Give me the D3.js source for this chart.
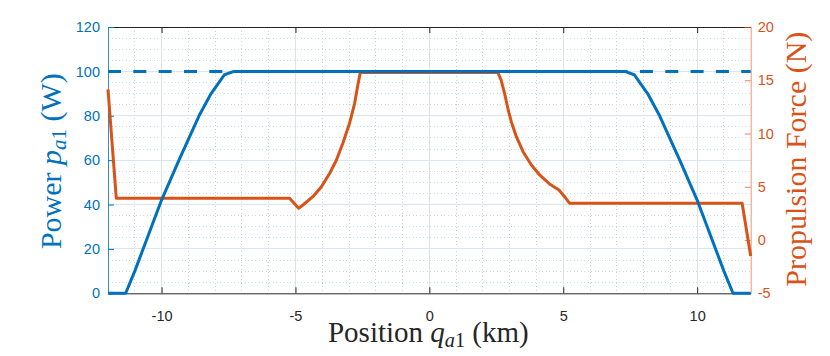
<!DOCTYPE html>
<html>
<head>
<meta charset="utf-8">
<script src="https://cdn.jsdelivr.net/npm/d3@7"></script>
<style>
  body { margin: 0; background: #fff; }
  svg { display: block; }
</style>
</head>
<body>
<div id="chart"></div>
<script>
// position along track (km) and power of agent a1 (W)
const powerX = [-12, -11.34, -11.0, -10.0, -9.35, -8.6, -8.15, -7.65, -7.3,
                7.3, 7.65, 8.15, 8.6, 9.35, 10.0, 11.0, 11.34, 12];
const powerY = [0, 0, 10, 42, 60, 80, 90, 98.5, 100,
                100, 98.5, 90, 80, 60, 42, 10, 0, 0];

// power limit (dashed)
const limitX = [-12, 12];
const limitY = [100, 100];

// propulsion force (N), right axis
const forceX = [-12, -11.69, -5.22, -4.88, -4.72, -4.35, -4.03, -3.72, -3.47, -3.23, -2.98, -2.79, -2.67, -2.58,
                2.56, 2.68, 2.81, 2.93, 3.06, 3.25, 3.5, 3.81, 4.12, 4.49, 4.84, 5.05, 5.24, 11.68, 12];
const forceY = [14.15, 3.92, 3.92, 2.98, 3.29, 4.07, 5.01, 6.27, 7.51, 9.08, 10.96, 12.84, 14.55, 15.72,
                15.72, 15.02, 13.77, 12.37, 11.11, 9.70, 8.29, 7.04, 6.11, 5.26, 4.70, 4.07, 3.45, 3.45, -1.5];

const xTicks      = [-10, -5, 0, 5, 10];
const xMinorTicks = d3.range(-12, 13, 1);
const yLeftTicks  = [0, 20, 40, 60, 80, 100, 120];
const yMinorTicks = d3.range(0, 121, 5);
const yRightTicks = [-5, 0, 5, 10, 15, 20];

const width  = 830,
      height = 356,
      margin = { top: 27, right: 79.3, bottom: 62.7, left: 108 };

const BLUE   = "#0072BD",
      ORANGE = "#D95319",
      DARK   = "#262626";

const x  = d3.scaleLinear([-12, 12],  [margin.left, width - margin.right]);
const yL = d3.scaleLinear([0, 120],   [height - margin.bottom, margin.top]);
const yR = d3.scaleLinear([-5, 20],   [height - margin.bottom, margin.top]);

const fmt = d => String(d);   // plain hyphen like matlab

const svg = d3.select("#chart").append("svg")
  .attr("width", width)
  .attr("height", height)
  .attr("font-family", "'Liberation Sans', Arial, sans-serif");

/* grid: minor dotted first, then major */
const grid = svg.append("g").attr("shape-rendering", "crispEdges");

grid.selectAll(".vminor")
  .data(xMinorTicks.filter(d => !xTicks.includes(d) && d > -12 && d < 12))
  .join("line")
    .attr("x1", d => x(d)).attr("x2", d => x(d))
    .attr("y1", yL(120)).attr("y2", yL(0))
    .attr("stroke", "#cdd2d7")
    .attr("stroke-dasharray", "1,2.5");

grid.selectAll(".hminor")
  .data(yMinorTicks.filter(d => d % 20 !== 0))
  .join("line")
    .attr("x1", x(-12)).attr("x2", x(12))
    .attr("y1", d => yL(d)).attr("y2", d => yL(d))
    .attr("stroke", "#c6dbed")
    .attr("stroke-dasharray", "1,2.5");

grid.selectAll(".vmajor")
  .data(xTicks)
  .join("line")
    .attr("x1", d => x(d)).attr("x2", d => x(d))
    .attr("y1", yL(120)).attr("y2", yL(0))
    .attr("stroke", "#e0e2e5");

grid.selectAll(".hmajor")
  .data(yLeftTicks.filter(d => d > 0 && d < 120))
  .join("line")
    .attr("x1", x(-12)).attr("x2", x(12))
    .attr("y1", d => yL(d)).attr("y2", d => yL(d))
    .attr("stroke", "#d6e6f4");

/* axes */
const tickLen = 6;

const bottomAxis = svg.append("g")
  .attr("transform", `translate(0,${height - margin.bottom})`)
  .call(d3.axisBottom(x).tickValues(xTicks).tickFormat(fmt)
    .tickSizeInner(-tickLen).tickSizeOuter(0).tickPadding(17));
const topAxis = svg.append("g")
  .attr("transform", `translate(0,${margin.top})`)
  .call(d3.axisTop(x).tickValues(xTicks).tickSizeInner(-tickLen).tickSizeOuter(0).tickFormat(""));
[bottomAxis, topAxis].forEach(g => {
  g.select(".domain").attr("stroke", DARK);
  g.selectAll("line").attr("stroke", DARK);
  g.selectAll("text").attr("fill", DARK).attr("font-size", 14.5);
});

const leftAxis = svg.append("g")
  .attr("transform", `translate(${margin.left},0)`)
  .call(d3.axisLeft(yL).tickValues(yLeftTicks).tickFormat(fmt)
    .tickSizeInner(-tickLen).tickSizeOuter(0).tickPadding(8));
leftAxis.select(".domain").attr("stroke", BLUE).attr("stroke-opacity", 0.8);
leftAxis.selectAll("line").attr("stroke", BLUE);
leftAxis.selectAll("text").attr("fill", BLUE).attr("font-size", 14.5);

const rightAxis = svg.append("g")
  .attr("transform", `translate(${width - margin.right},0)`)
  .call(d3.axisRight(yR).tickValues(yRightTicks).tickFormat(fmt)
    .tickSizeInner(-tickLen).tickSizeOuter(0).tickPadding(7));
rightAxis.select(".domain").attr("stroke", ORANGE).attr("stroke-opacity", 0.6);
rightAxis.selectAll("line").attr("stroke", ORANGE).attr("stroke-opacity", 0.7);
rightAxis.selectAll("text").attr("fill", ORANGE).attr("font-size", 14.5);

/* lines */
const lineL = d3.line().x(d => x(d[0])).y(d => yL(d[1]));
const lineR = d3.line().x(d => x(d[0])).y(d => yR(d[1]));

svg.append("path")
  .datum(d3.zip(limitX, limitY))
  .attr("d", lineL)
  .attr("fill", "none")
  .attr("stroke", BLUE)
  .attr("stroke-width", 3)
  .attr("stroke-dasharray", "13,12.33");

svg.append("path")
  .datum(d3.zip(forceX, forceY))
  .attr("d", lineR)
  .attr("fill", "none")
  .attr("stroke", ORANGE)
  .attr("stroke-width", 3)
  .attr("stroke-linejoin", "round");

svg.append("path")
  .datum(d3.zip(powerX, powerY))
  .attr("d", lineL)
  .attr("fill", "none")
  .attr("stroke", BLUE)
  .attr("stroke-width", 3)
  .attr("stroke-linejoin", "round");

/* axis titles (LaTeX look) */
function mathLabel(sel, pre, sym, post) {
  sel.append("tspan").text(pre);
  sel.append("tspan").attr("font-style", "italic").text(sym);
  sel.append("tspan").attr("font-style", "italic").attr("font-size", "0.7em").attr("dy", 5).text("a");
  sel.append("tspan").attr("font-size", "0.7em").text("1");
  sel.append("tspan").attr("dy", -5).text(post);
}

const labelFont = "'Liberation Serif', 'DejaVu Serif', serif";

svg.append("text")
  .attr("x", (margin.left + width - margin.right) / 2 - 1)
  .attr("y", 342)
  .attr("text-anchor", "middle")
  .attr("font-family", labelFont)
  .attr("font-size", 29)
  .attr("fill", DARK)
  .call(mathLabel, "Position ", "q", " (km)");

svg.append("text")
  .attr("transform", `translate(61,${(margin.top + height - margin.bottom) / 2 + 1}) rotate(-90)`)
  .attr("text-anchor", "middle")
  .attr("font-family", labelFont)
  .attr("font-size", 30)
  .attr("fill", BLUE)
  .call(mathLabel, "Power ", "p", " (W)");

svg.append("text")
  .attr("transform", `translate(806,${(margin.top + height - margin.bottom) / 2 - 1}) rotate(-90)`)
  .attr("text-anchor", "middle")
  .attr("font-family", labelFont)
  .attr("font-size", 30)
  .attr("fill", ORANGE)
  .text("Propulsion Force (N)");
</script>
</body>
</html>
